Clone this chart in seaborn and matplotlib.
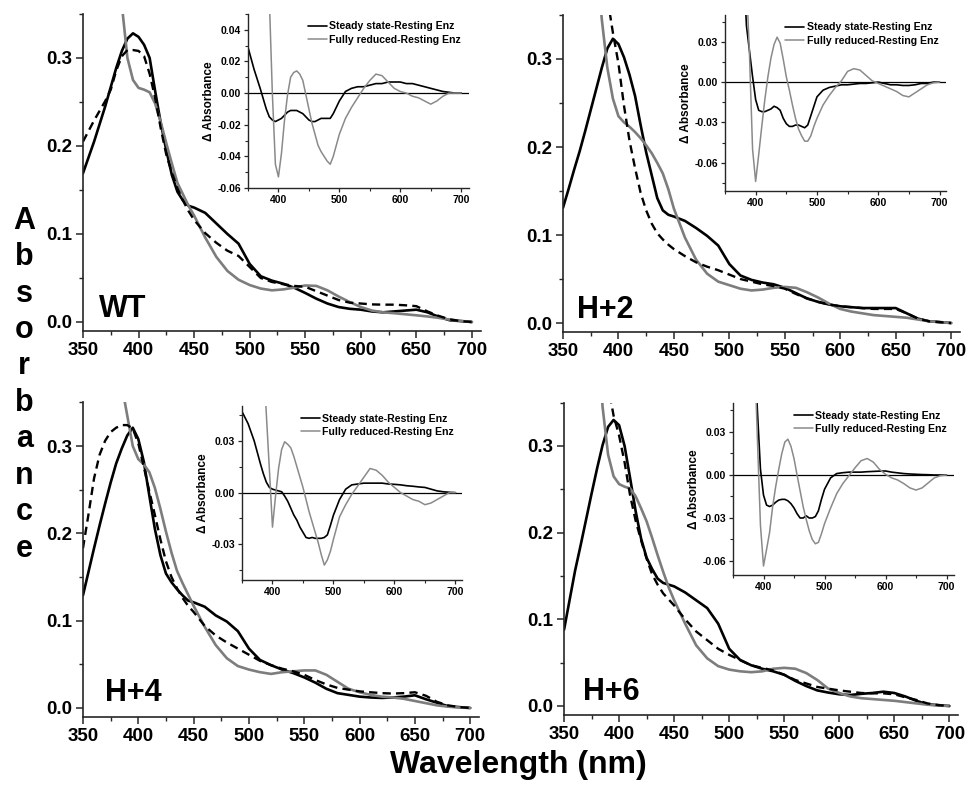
import numpy as np
import seaborn as sns
import matplotlib.pyplot as plt
from matplotlib.ticker import MultipleLocator, FormatStrFormatter

nan = np.nan

# wavelength grids (nm)
WL_MAIN = list(range(350, 451, 5)) + list(range(460, 701, 10))
WL_INSET = [350, 360, 370, 380] + list(range(385, 501, 5)) + list(range(510, 701, 10))

# ---- WT ----
WT_REST = [0.169, 0.187, 0.205, 0.225, 0.245, 0.267, 0.289, 0.308, 0.322, 0.328, 0.324,
           0.315, 0.300, 0.262, 0.226, 0.195, 0.167, 0.148, 0.138, 0.132, 0.130,
           0.124, 0.112, 0.100, 0.089, 0.066, 0.052, 0.047, 0.0436, 0.039, 0.033, 0.0265,
           0.021, 0.017, 0.015, 0.014, 0.012, 0.011, 0.012, 0.013, 0.014, 0.011, 0.006,
           0.002, 0.001, 0.0]
WT_STEADY = [0.205, 0.217, 0.229, 0.240, 0.251, 0.264, 0.286, 0.302, 0.309, 0.309, 0.308,
             0.302, 0.282, 0.254, 0.220, 0.190, 0.170, 0.152, 0.138, 0.126, 0.116,
             0.101, 0.090, 0.081, 0.075, 0.0625, 0.050, 0.0455, 0.043, 0.041, 0.040, 0.035,
             0.030, 0.025, 0.022, 0.021, 0.020, 0.0197, 0.0197, 0.019, 0.018, 0.012, 0.007,
             0.003, 0.001, 0.0]
WT_REDUCED = [nan, nan, nan, nan, nan, nan, 0.44, 0.36, 0.30, 0.275, 0.266,
              0.264, 0.261, 0.248, 0.227, 0.203, 0.180, 0.158, 0.145, 0.132, 0.121,
              0.096, 0.074, 0.058, 0.048, 0.042, 0.038, 0.036, 0.037, 0.039, 0.0415, 0.041,
              0.036, 0.029, 0.0227, 0.017, 0.013, 0.011, 0.010, 0.0088, 0.0076, 0.0063, 0.0047,
              0.0027, 0.0013, 0.0]
WT_SS_DIFF = [0.029, 0.015, 0.003, -0.010,
              -0.015, -0.017, -0.018, -0.017, -0.016, -0.014, -0.012, -0.011, -0.011, -0.011,
              -0.012, -0.013, -0.015, -0.017, -0.018, -0.018, -0.017, -0.016, -0.016, -0.016,
              -0.016, -0.013, -0.009, -0.005,
              0.001, 0.003, 0.004, 0.004, 0.005, 0.006, 0.006, 0.007, 0.007, 0.007,
              0.006, 0.006, 0.005, 0.004, 0.003, 0.002, 0.001, 0.0005, 0.0, 0.0]
WT_RED_DIFF = [nan, nan, nan, 0.12,
               0.06, 0.0, -0.045, -0.053, -0.038, -0.017, -0.001, 0.010, 0.013, 0.014,
               0.012, 0.008, -0.001, -0.010, -0.019, -0.026, -0.033, -0.037, -0.040, -0.043,
               -0.045, -0.040, -0.033, -0.026,
               -0.016, -0.009, -0.003, 0.003, 0.008, 0.012, 0.011, 0.007, 0.003, 0.001,
               0.000, -0.002, -0.003, -0.005, -0.007, -0.005, -0.002, 0.000, 0.000, 0.0]

# ---- H+2 ----
H2_REST = [0.131, 0.152, 0.174, 0.195, 0.218, 0.242, 0.266, 0.290, 0.312, 0.323, 0.317,
           0.302, 0.282, 0.258, 0.225, 0.194, 0.168, 0.142, 0.128, 0.123, 0.121,
           0.116, 0.108, 0.099, 0.088, 0.067, 0.054, 0.049, 0.046, 0.044, 0.040, 0.034,
           0.028, 0.024, 0.021, 0.019, 0.018, 0.017, 0.017, 0.017, 0.017, 0.011, 0.005,
           0.002, 0.001, 0.0]
H2_STEADY = [nan, nan, nan, nan, nan, nan, nan, 0.42, 0.37, 0.33, 0.295,
             0.247, 0.207, 0.176, 0.148, 0.128, 0.113, 0.102, 0.095, 0.089, 0.084,
             0.076, 0.069, 0.064, 0.060, 0.055, 0.050, 0.047, 0.044, 0.042, 0.039, 0.033,
             0.028, 0.024, 0.021, 0.019, 0.018, 0.017, 0.016, 0.016, 0.016, 0.011, 0.005,
             0.002, 0.001, 0.0]
H2_REDUCED = [nan, nan, nan, nan, nan, nan, 0.42, 0.345, 0.290, 0.255, 0.235,
              0.228, 0.223, 0.217, 0.210, 0.202, 0.193, 0.182, 0.170, 0.152, 0.130,
              0.097, 0.072, 0.056, 0.047, 0.043, 0.039, 0.037, 0.038, 0.040, 0.041, 0.040,
              0.035, 0.029, 0.022, 0.016, 0.013, 0.011, 0.009, 0.008, 0.007, 0.006, 0.004,
              0.002, 0.001, 0.0]
H2_SS_DIFF = [nan, nan, nan, 0.09,
              0.042, 0.023, 0.004, -0.013, -0.021, -0.022, -0.022, -0.021, -0.020, -0.018,
              -0.019, -0.021, -0.027, -0.031, -0.033, -0.033, -0.032, -0.032, -0.033, -0.034,
              -0.032, -0.025, -0.018, -0.011,
              -0.006, -0.004, -0.003, -0.002, -0.002, -0.0015, -0.001, -0.001, -0.0005, 0.0,
              -0.001, -0.002, -0.002, -0.0025, -0.0025, -0.002, -0.001, -0.001, 0.0, 0.0]
H2_RED_DIFF = [nan, nan, nan, 0.12,
               0.075, 0.02, -0.050, -0.074, -0.054, -0.033, -0.013, 0.004, 0.018, 0.028,
               0.0335, 0.029, 0.017, 0.004, -0.006, -0.017, -0.027, -0.035, -0.040, -0.044,
               -0.044, -0.040, -0.033, -0.027,
               -0.017, -0.010, -0.004, 0.001, 0.008, 0.010, 0.009, 0.005, 0.001, -0.001,
               -0.003, -0.005, -0.007, -0.010, -0.011, -0.008, -0.005, -0.002, -0.0005, 0.0]

# ---- H+4 ----
H4_REST = [0.129, 0.156, 0.183, 0.209, 0.234, 0.258, 0.280, 0.297, 0.312, 0.321, 0.308,
           0.282, 0.243, 0.205, 0.175, 0.154, 0.144, 0.136, 0.129, 0.123, 0.121,
           0.116, 0.106, 0.099, 0.088, 0.068, 0.055, 0.049, 0.044, 0.040, 0.035, 0.029,
           0.022, 0.017, 0.015, 0.013, 0.012, 0.0115, 0.012, 0.013, 0.0145, 0.010, 0.006,
           0.002, 0.001, 0.0]
H4_STEADY = [0.183, 0.222, 0.263, 0.290, 0.306, 0.316, 0.321, 0.324, 0.324, 0.320, 0.303,
             0.276, 0.248, 0.221, 0.193, 0.168, 0.150, 0.137, 0.126, 0.117, 0.110,
             0.094, 0.083, 0.075, 0.068, 0.061, 0.054, 0.049, 0.045, 0.042, 0.038, 0.032,
             0.027, 0.023, 0.021, 0.019, 0.018, 0.017, 0.0165, 0.017, 0.018, 0.014, 0.007,
             0.003, 0.001, 0.0]
H4_REDUCED = [nan, nan, nan, nan, nan, nan, 0.42, 0.37, 0.335, 0.300, 0.285,
              0.279, 0.270, 0.252, 0.228, 0.202, 0.178, 0.157, 0.143, 0.130, 0.117,
              0.093, 0.072, 0.057, 0.048, 0.044, 0.041, 0.039, 0.041, 0.042, 0.043, 0.043,
              0.038, 0.030, 0.022, 0.018, 0.015, 0.013, 0.012, 0.0105, 0.008, 0.0055, 0.003,
              0.0015, 0.0005, 0.0]
H4_SS_DIFF = [0.047, 0.040, 0.030, 0.017,
              0.011, 0.006, 0.003, 0.002, 0.0015, 0.001, 0.0005, -0.002, -0.005, -0.009,
              -0.013, -0.016, -0.020, -0.023, -0.026, -0.0265, -0.026, -0.0265, -0.0265, -0.0265,
              -0.026, -0.0245, -0.019, -0.013,
              -0.004, 0.002, 0.0045, 0.005, 0.0055, 0.0055, 0.0055, 0.0055, 0.005, 0.0048,
              0.0045, 0.004, 0.0037, 0.0033, 0.003, 0.002, 0.001, 0.0005, 0.0002, 0.0]
H4_RED_DIFF = [nan, nan, nan, 0.12,
               0.078, 0.045, 0.013, -0.020, -0.002, 0.014, 0.025, 0.0295, 0.028, 0.026,
               0.021, 0.015, 0.009, 0.003, -0.004, -0.011, -0.017, -0.023, -0.029, -0.036,
               -0.042, -0.039, -0.034, -0.027,
               -0.014, -0.007, -0.001, 0.004, 0.009, 0.014, 0.013, 0.010, 0.006, 0.003,
               0.000, -0.002, -0.004, -0.005, -0.007, -0.006, -0.004, -0.002, 0.0, 0.0]

# ---- H+6 ----
H6_REST = [0.088, 0.122, 0.156, 0.185, 0.215, 0.245, 0.274, 0.301, 0.322, 0.330, 0.324,
           0.300, 0.263, 0.225, 0.193, 0.171, 0.158, 0.147, 0.142, 0.140, 0.138,
           0.131, 0.122, 0.113, 0.095, 0.066, 0.053, 0.047, 0.043, 0.040, 0.036, 0.029,
           0.023, 0.018, 0.0155, 0.0135, 0.0127, 0.014, 0.015, 0.0165, 0.015, 0.011, 0.006,
           0.002, 0.001, 0.0]
H6_STEADY = [nan, nan, nan, nan, nan, nan, nan, 0.42, 0.37, 0.335, 0.312,
             0.281, 0.243, 0.214, 0.191, 0.170, 0.152, 0.140, 0.130, 0.123, 0.116,
             0.100, 0.086, 0.076, 0.066, 0.059, 0.053, 0.047, 0.044, 0.041, 0.036, 0.030,
             0.026, 0.022, 0.020, 0.018, 0.0165, 0.015, 0.0146, 0.0146, 0.0135, 0.010, 0.007,
             0.003, 0.001, 0.0]
H6_REDUCED = [nan, nan, nan, nan, nan, nan, 0.44, 0.345, 0.29, 0.265, 0.256,
              0.253, 0.251, 0.242, 0.228, 0.213, 0.194, 0.174, 0.155, 0.137, 0.122,
              0.095, 0.070, 0.055, 0.046, 0.042, 0.040, 0.039, 0.040, 0.043, 0.044, 0.043,
              0.038, 0.030, 0.020, 0.015, 0.011, 0.009, 0.008, 0.007, 0.006, 0.0045, 0.003,
              0.0015, 0.0005, 0.0]
H6_SS_DIFF = [nan, nan, nan, 0.13,
              0.09, 0.045, 0.004, -0.014, -0.021, -0.022, -0.021, -0.019, -0.0175, -0.017,
              -0.017, -0.018, -0.020, -0.023, -0.027, -0.030, -0.030, -0.0285, -0.030, -0.030,
              -0.029, -0.025, -0.017, -0.010,
              -0.002, 0.001, 0.0016, 0.002, 0.002, 0.002, 0.0023, 0.0025, 0.0027, 0.0028,
              0.002, 0.0015, 0.001, 0.0007, 0.0005, 0.0003, 0.0002, 0.0, 0.0, 0.0]
H6_RED_DIFF = [nan, nan, nan, 0.13,
               0.09, 0.025, -0.035, -0.0635, -0.052, -0.040, -0.022, -0.008, 0.004, 0.015,
               0.023, 0.025, 0.020, 0.0115, 0.000, -0.011, -0.022, -0.031, -0.039, -0.045,
               -0.048, -0.047, -0.041, -0.034,
               -0.023, -0.013, -0.006, -0.0005, 0.005, 0.010, 0.0115, 0.009, 0.004, 0.0005,
               -0.002, -0.0035, -0.006, -0.009, -0.0105, -0.009, -0.0055, -0.002, -0.0005, 0.0]

NAMES = ["WT", "H+2", "H+4", "H+6"]
MAIN_YTICKS = [0.0, 0.1, 0.2, 0.3]
INSET_YTICKS = [[-0.06, -0.04, -0.02, 0.0, 0.02, 0.04],
                [-0.06, -0.03, 0.0, 0.03],
                [-0.03, 0.0, 0.03],
                [-0.06, -0.03, 0.0, 0.03]]
INSET_XTICKS = [400, 500, 600, 700]
LEGEND_LABELS = ["Steady state-Resting Enz", "Fully reduced-Resting Enz"]

panels = [
    dict(rest=WT_REST, steady=WT_STEADY, reduced=WT_REDUCED, ss=WT_SS_DIFF, red=WT_RED_DIFF),
    dict(rest=H2_REST, steady=H2_STEADY, reduced=H2_REDUCED, ss=H2_SS_DIFF, red=H2_RED_DIFF),
    dict(rest=H4_REST, steady=H4_STEADY, reduced=H4_REDUCED, ss=H4_SS_DIFF, red=H4_RED_DIFF),
    dict(rest=H6_REST, steady=H6_STEADY, reduced=H6_REDUCED, ss=H6_SS_DIFF, red=H6_RED_DIFF),
]

# layout (figure fractions)
main_rects = [[0.0859, 0.5786, 0.4118, 0.4036],
              [0.5828, 0.5773, 0.4110, 0.4036],
              [0.0859, 0.0870, 0.4100, 0.4004],
              [0.5839, 0.0896, 0.4080, 0.3975]]
inset_rects = [[0.2567, 0.7605, 0.2283, 0.2217],
               [0.7505, 0.7569, 0.2285, 0.2240],
               [0.2505, 0.2615, 0.2273, 0.2208],
               [0.7588, 0.2671, 0.2286, 0.2191]]
inset_ylims = [(-0.06, 0.05), (-0.081, 0.05), (-0.0505, 0.05), (-0.07, 0.05)]
inset_xmax = [712, 710, 710, 712]
inset_minor = [0.01, 0.015, 0.015, 0.015]
label_pos = [(364, 0.006), (363, 0.006), (370, 0.008), (367, 0.007)]

sns.set_style("ticks")
plt.rcParams['font.family'] = ['Liberation Sans', 'DejaVu Sans']
plt.rcParams['font.weight'] = 'bold'
plt.rcParams['axes.labelweight'] = 'bold'
plt.rcParams['axes.unicode_minus'] = False
plt.rcParams['text.color'] = 'black'
plt.rcParams['axes.labelcolor'] = 'black'
plt.rcParams['xtick.labelcolor'] = 'black'
plt.rcParams['ytick.labelcolor'] = 'black'

GRAY = "#7d7d7d"
SPINE = "#262626"

fig = plt.figure(figsize=(9.66, 7.85), dpi=100)

for i, p in enumerate(panels):
    ax = fig.add_axes(main_rects[i])
    sns.lineplot(x=WL_MAIN, y=p["rest"], ax=ax, color="black", linewidth=1.9)
    sns.lineplot(x=WL_MAIN, y=p["reduced"], ax=ax, color=GRAY, linewidth=1.9)
    sns.lineplot(x=WL_MAIN, y=p["steady"], ax=ax, color="black", linewidth=1.7,
                 linestyle=(0, (3.5, 2.2)))
    ax.set_xlim(350, 708)
    ax.set_ylim(-0.01, 0.35)
    ax.set_yticks(MAIN_YTICKS)
    ax.yaxis.set_major_formatter(FormatStrFormatter('%.1f'))
    ax.yaxis.set_minor_locator(MultipleLocator(0.05))
    ax.xaxis.set_major_locator(MultipleLocator(50))
    ax.xaxis.set_minor_locator(MultipleLocator(25))
    ax.tick_params(which='major', direction='out', length=5, width=1.1,
                   labelsize=13.5, pad=3, color=SPINE)
    ax.tick_params(which='minor', direction='out', length=3, width=1.0, color=SPINE)
    sns.despine(ax=ax)
    for s in ("left", "bottom"):
        ax.spines[s].set_linewidth(1.2)
        ax.spines[s].set_color(SPINE)
    ax.set_xlabel("")
    ax.set_ylabel("")
    ax.set_facecolor("none")
    ax.text(label_pos[i][0], label_pos[i][1], NAMES[i], fontsize=22,
            fontweight='bold', ha='left', va='baseline')

    ins = fig.add_axes(inset_rects[i])
    ins.set_facecolor("none")
    ins.axhline(0, color="black", linewidth=0.9, zorder=1)
    sns.lineplot(x=WL_INSET, y=p["ss"], ax=ins, color="black", linewidth=1.2,
                 label=LEGEND_LABELS[0])
    sns.lineplot(x=WL_INSET, y=p["red"], ax=ins, color="#8a8a8a", linewidth=1.1,
                 label=LEGEND_LABELS[1])
    ins.set_xlim(350, inset_xmax[i])
    ins.set_ylim(*inset_ylims[i])
    ins.set_xticks(INSET_XTICKS)
    ins.xaxis.set_minor_locator(MultipleLocator(50))
    ins.set_yticks(INSET_YTICKS[i])
    ins.yaxis.set_major_formatter(FormatStrFormatter('%.2f'))
    ins.yaxis.set_minor_locator(MultipleLocator(inset_minor[i]))
    ins.tick_params(which='major', direction='out', length=3, width=0.9,
                    labelsize=7.5, pad=2, color=SPINE)
    ins.tick_params(which='minor', direction='out', length=2, width=0.8, color=SPINE)
    sns.despine(ax=ins)
    for s in ("left", "bottom"):
        ins.spines[s].set_linewidth(1.0)
        ins.spines[s].set_color(SPINE)
    ins.set_xlabel("")
    ins.set_ylabel("\u0394 Absorbance", fontsize=8.5, labelpad=2)
    ins.legend(loc="upper right", frameon=False, fontsize=7.6, handlelength=1.8,
               handletextpad=0.2, labelspacing=0.3, borderaxespad=0.3)

fig.text(0.025, 0.510, "A\nb\ns\no\nr\nb\na\nn\nc\ne", ha='center', va='center',
         multialignment='center', fontsize=22, fontweight='bold', linespacing=1.28)
fig.text(0.537, 0.015, "Wavelength (nm)", ha='center', va='baseline',
         fontsize=23, fontweight='bold')

fig.savefig("out.png", dpi=100)
